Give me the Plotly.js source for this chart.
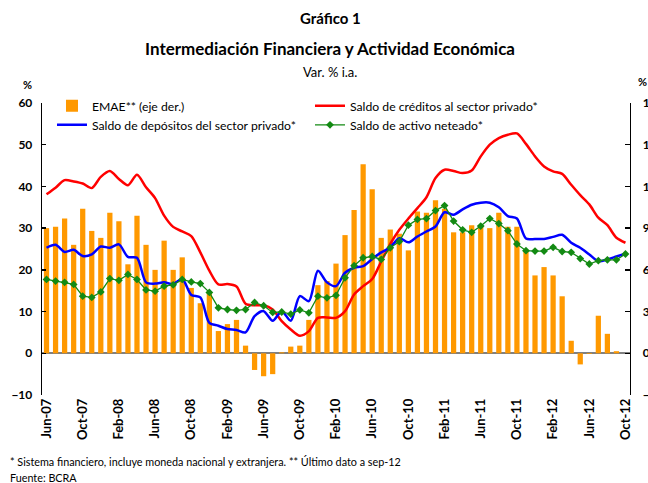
<!DOCTYPE html>
<html>
<head>
<meta charset="utf-8">
<script src="https://cdn.plot.ly/plotly-3.0.1.min.js"></script>
<style>html,body{margin:0;padding:0;background:#fff;}#chart{width:648px;height:483px;}</style>
</head>
<body>
<div id="chart"></div>
<script>
const months = ["Jun-07","Jul-07","Ago-07","Sep-07","Oct-07","Nov-07","Dic-07",
"Ene-08","Feb-08","Mar-08","Abr-08","May-08","Jun-08","Jul-08","Ago-08","Sep-08","Oct-08","Nov-08","Dic-08",
"Ene-09","Feb-09","Mar-09","Abr-09","May-09","Jun-09","Jul-09","Ago-09","Sep-09","Oct-09","Nov-09","Dic-09",
"Ene-10","Feb-10","Mar-10","Abr-10","May-10","Jun-10","Jul-10","Ago-10","Sep-10","Oct-10","Nov-10","Dic-10",
"Ene-11","Feb-11","Mar-11","Abr-11","May-11","Jun-11","Jul-11","Ago-11","Sep-11","Oct-11","Nov-11","Dic-11",
"Ene-12","Feb-12","Mar-12","Abr-12","May-12","Jun-12","Jul-12","Ago-12","Sep-12","Oct-12"];

const tickLabels = ["Jun-07","Oct-07","Feb-08","Jun-08","Oct-08","Feb-09","Jun-09","Oct-09","Feb-10",
"Jun-10","Oct-10","Feb-11","Jun-11","Oct-11","Feb-12","Jun-12","Oct-12"];

// EMAE (right axis), Jun-07 .. Sep-12
const emae = [9.0,9.1,9.7,7.8,10.4,8.8,8.3,10.1,9.5,6.4,9.9,7.8,6.0,8.1,6.0,6.9,4.7,3.6,4.4,1.6,
2.1,2.4,0.55,-1.2,-1.65,-1.5,0.07,0.48,0.55,2.4,4.9,5.2,6.45,8.5,10.3,13.6,11.8,8.3,8.9,8.6,
7.4,10.2,10.1,11.0,10.4,8.7,8.7,9.2,9.1,9.0,10.1,9.1,9.1,7.4,5.6,6.2,5.6,4.1,0.9,-0.8,
-0.05,2.7,1.4,0.15];

// Saldo de créditos al sector privado (left axis)
const creditos = [38.1,39.7,41.5,41.2,40.7,39.6,42.3,43.7,41.8,40.3,42.8,39.8,37.2,33.0,30.3,29.2,28.1,24.2,19.8,16.5,
16.6,16.0,11.9,11.5,11.5,10.5,7.7,5.7,4.2,5.3,8.5,8.6,8.5,10.1,14.1,16.1,17.8,22.0,26.2,29.6,
32.3,34.8,37.4,42.0,44.0,43.7,43.2,43.8,47.2,50.0,51.6,52.4,52.7,50.2,47.2,44.8,43.6,43.0,40.4,37.9,
35.7,32.5,30.7,27.7,26.5];

// Saldo de depósitos del sector privado (left axis)
const depositos = [25.3,26.0,24.3,24.8,23.3,23.7,25.6,25.3,26.1,23.1,22.9,17.0,16.7,17.0,16.6,17.8,14.0,13.4,7.3,6.6,
5.8,5.6,5.0,8.9,10.1,7.8,10.1,7.8,13.7,12.5,19.8,17.0,16.1,19.3,20.5,20.9,22.6,24.2,25.4,27.6,
26.6,28.0,29.2,30.4,33.8,33.2,34.5,35.6,36.1,36.1,35.0,32.9,32.3,27.5,27.4,27.4,27.9,28.4,26.5,25.3,
23.7,22.1,22.5,23.2,23.9];

// Saldo de activo neteado (left axis)
const activo = [17.7,17.3,17.0,16.5,13.7,13.4,14.7,17.9,17.5,18.9,17.7,15.2,14.9,16.1,16.4,17.7,17.1,16.7,14.6,10.9,
10.5,10.3,10.5,12.2,11.4,9.8,9.9,9.4,10.4,9.7,13.7,13.3,13.9,18.1,21.0,22.9,23.2,22.5,25.3,26.8,
30.7,32.1,32.3,34.2,35.4,31.7,29.6,29.0,30.5,32.3,31.1,29.4,26.2,24.6,24.5,24.5,25.4,24.4,24.2,22.7,
21.4,22.2,22.4,22.4,23.8];

const FONT = "Lato, 'Open Sans', sans-serif";

const traces = [
  {type:'bar', name:'EMAE** (eje der.)', x: months.slice(0, emae.length), y: emae,
   marker:{color:'#FF9900', line:{width:0}}, yaxis:'y', hoverinfo:'skip'},
  {type:'scatter', mode:'lines', name:'Saldo de créditos al sector privado*', x: months, y: creditos,
   line:{color:'#FF0000', width:2.5, shape:'spline', smoothing:0.8}, yaxis:'y2', hoverinfo:'skip'},
  {type:'scatter', mode:'lines', name:'Saldo de depósitos del sector privado*', x: months, y: depositos,
   line:{color:'#0000FF', width:2.5, shape:'spline', smoothing:0.8}, yaxis:'y2', hoverinfo:'skip'},
  {type:'scatter', mode:'lines+markers', name:'Saldo de activo neteado*', x: months, y: activo,
   line:{color:'#138A13', width:1.3}, marker:{color:'#138A13', symbol:'diamond', size:6}, yaxis:'y2', hoverinfo:'skip'}
];

const ann = (text, x, y, opts) => Object.assign({text, x, y, xref:'paper', yref:'paper', showarrow:false,
  xanchor:'center', yanchor:'middle', font:{family:FONT, size:12, color:'#000'}}, opts||{});

const layout = {
  width:648, height:483,
  margin:{l:42, r:18, t:103, b:88, pad:0},
  paper_bgcolor:'#ffffff', plot_bgcolor:'#ffffff',
  font:{family:FONT, color:'#000', size:12},
  showlegend:true,
  legend:{orientation:'h', x:0.017, xanchor:'left', y:1.04, yanchor:'top',
    entrywidth:213, entrywidthmode:'pixels', itemwidth:30, traceorder:'normal',
    font:{family:FONT, size:12.2, color:'#000'}, bgcolor:'rgba(0,0,0,0)', tracegroupgap:0},
  bargap:0.42,
  xaxis:{type:'category', range:[-0.5, 64.5], tickvals:tickLabels, ticktext:tickLabels,
    tickangle:-90, tickfont:{family:FONT, size:13, weight:'bold', color:'#000'},
    showline:false, ticks:'', showgrid:false, zeroline:false, automargin:false},
  yaxis:{range:[-3, 18], tick0:0, dtick:3, side:'right', showline:true, linecolor:'#000', linewidth:1.3,
    ticks:'inside', ticklen:5, tickcolor:'#000', tickwidth:1.3, ticklabelstandoff:9,
    tickfont:{family:FONT, size:12, weight:'bold', color:'#000'},
    showgrid:false, zeroline:true, zerolinecolor:'#808080', zerolinewidth:2, automargin:false},
  yaxis2:{range:[-10, 60], tick0:0, dtick:10, side:'left', overlaying:'y', showline:true, linecolor:'#000', linewidth:1.3,
    ticks:'inside', ticklen:4, tickcolor:'#000', tickwidth:1.3,
    tickfont:{family:FONT, size:12, weight:'bold', color:'#000'}, ticklabelstandoff:6,
    showgrid:false, zeroline:false, automargin:false},
  annotations:[
    ann('<b>Gráfico 1</b>', 0.49, 1.291, {font:{family:FONT, size:15, color:'#000'}}),
    ann('<b>Intermediación Financiera y Actividad Económica</b>', 0.49, 1.188, {font:{family:FONT, size:17, color:'#000'}}),
    ann('Var. % i.a.', 0.49, 1.106, {font:{family:FONT, size:13, color:'#000'}}),
    ann('<b>%</b>', -0.0255, 1.065, {font:{family:FONT, size:11, color:'#000'}}),
    ann('<b>%</b>', 1.0215, 1.075, {font:{family:FONT, size:11, color:'#000'}}),
    ann('* Sistema financiero, incluye moneda nacional y extranjera. ** Último dato a sep-12', -0.0578, -0.229,
      {xanchor:'left', font:{family:FONT, size:10.8, color:'#000'}}),
    ann('Fuente: BCRA', -0.0578, -0.284, {xanchor:'left', font:{family:FONT, size:10.8, color:'#000'}})
  ]
};

Plotly.newPlot('chart', traces, layout, {staticPlot:true, displayModeBar:false});
</script>
</body>
</html>
